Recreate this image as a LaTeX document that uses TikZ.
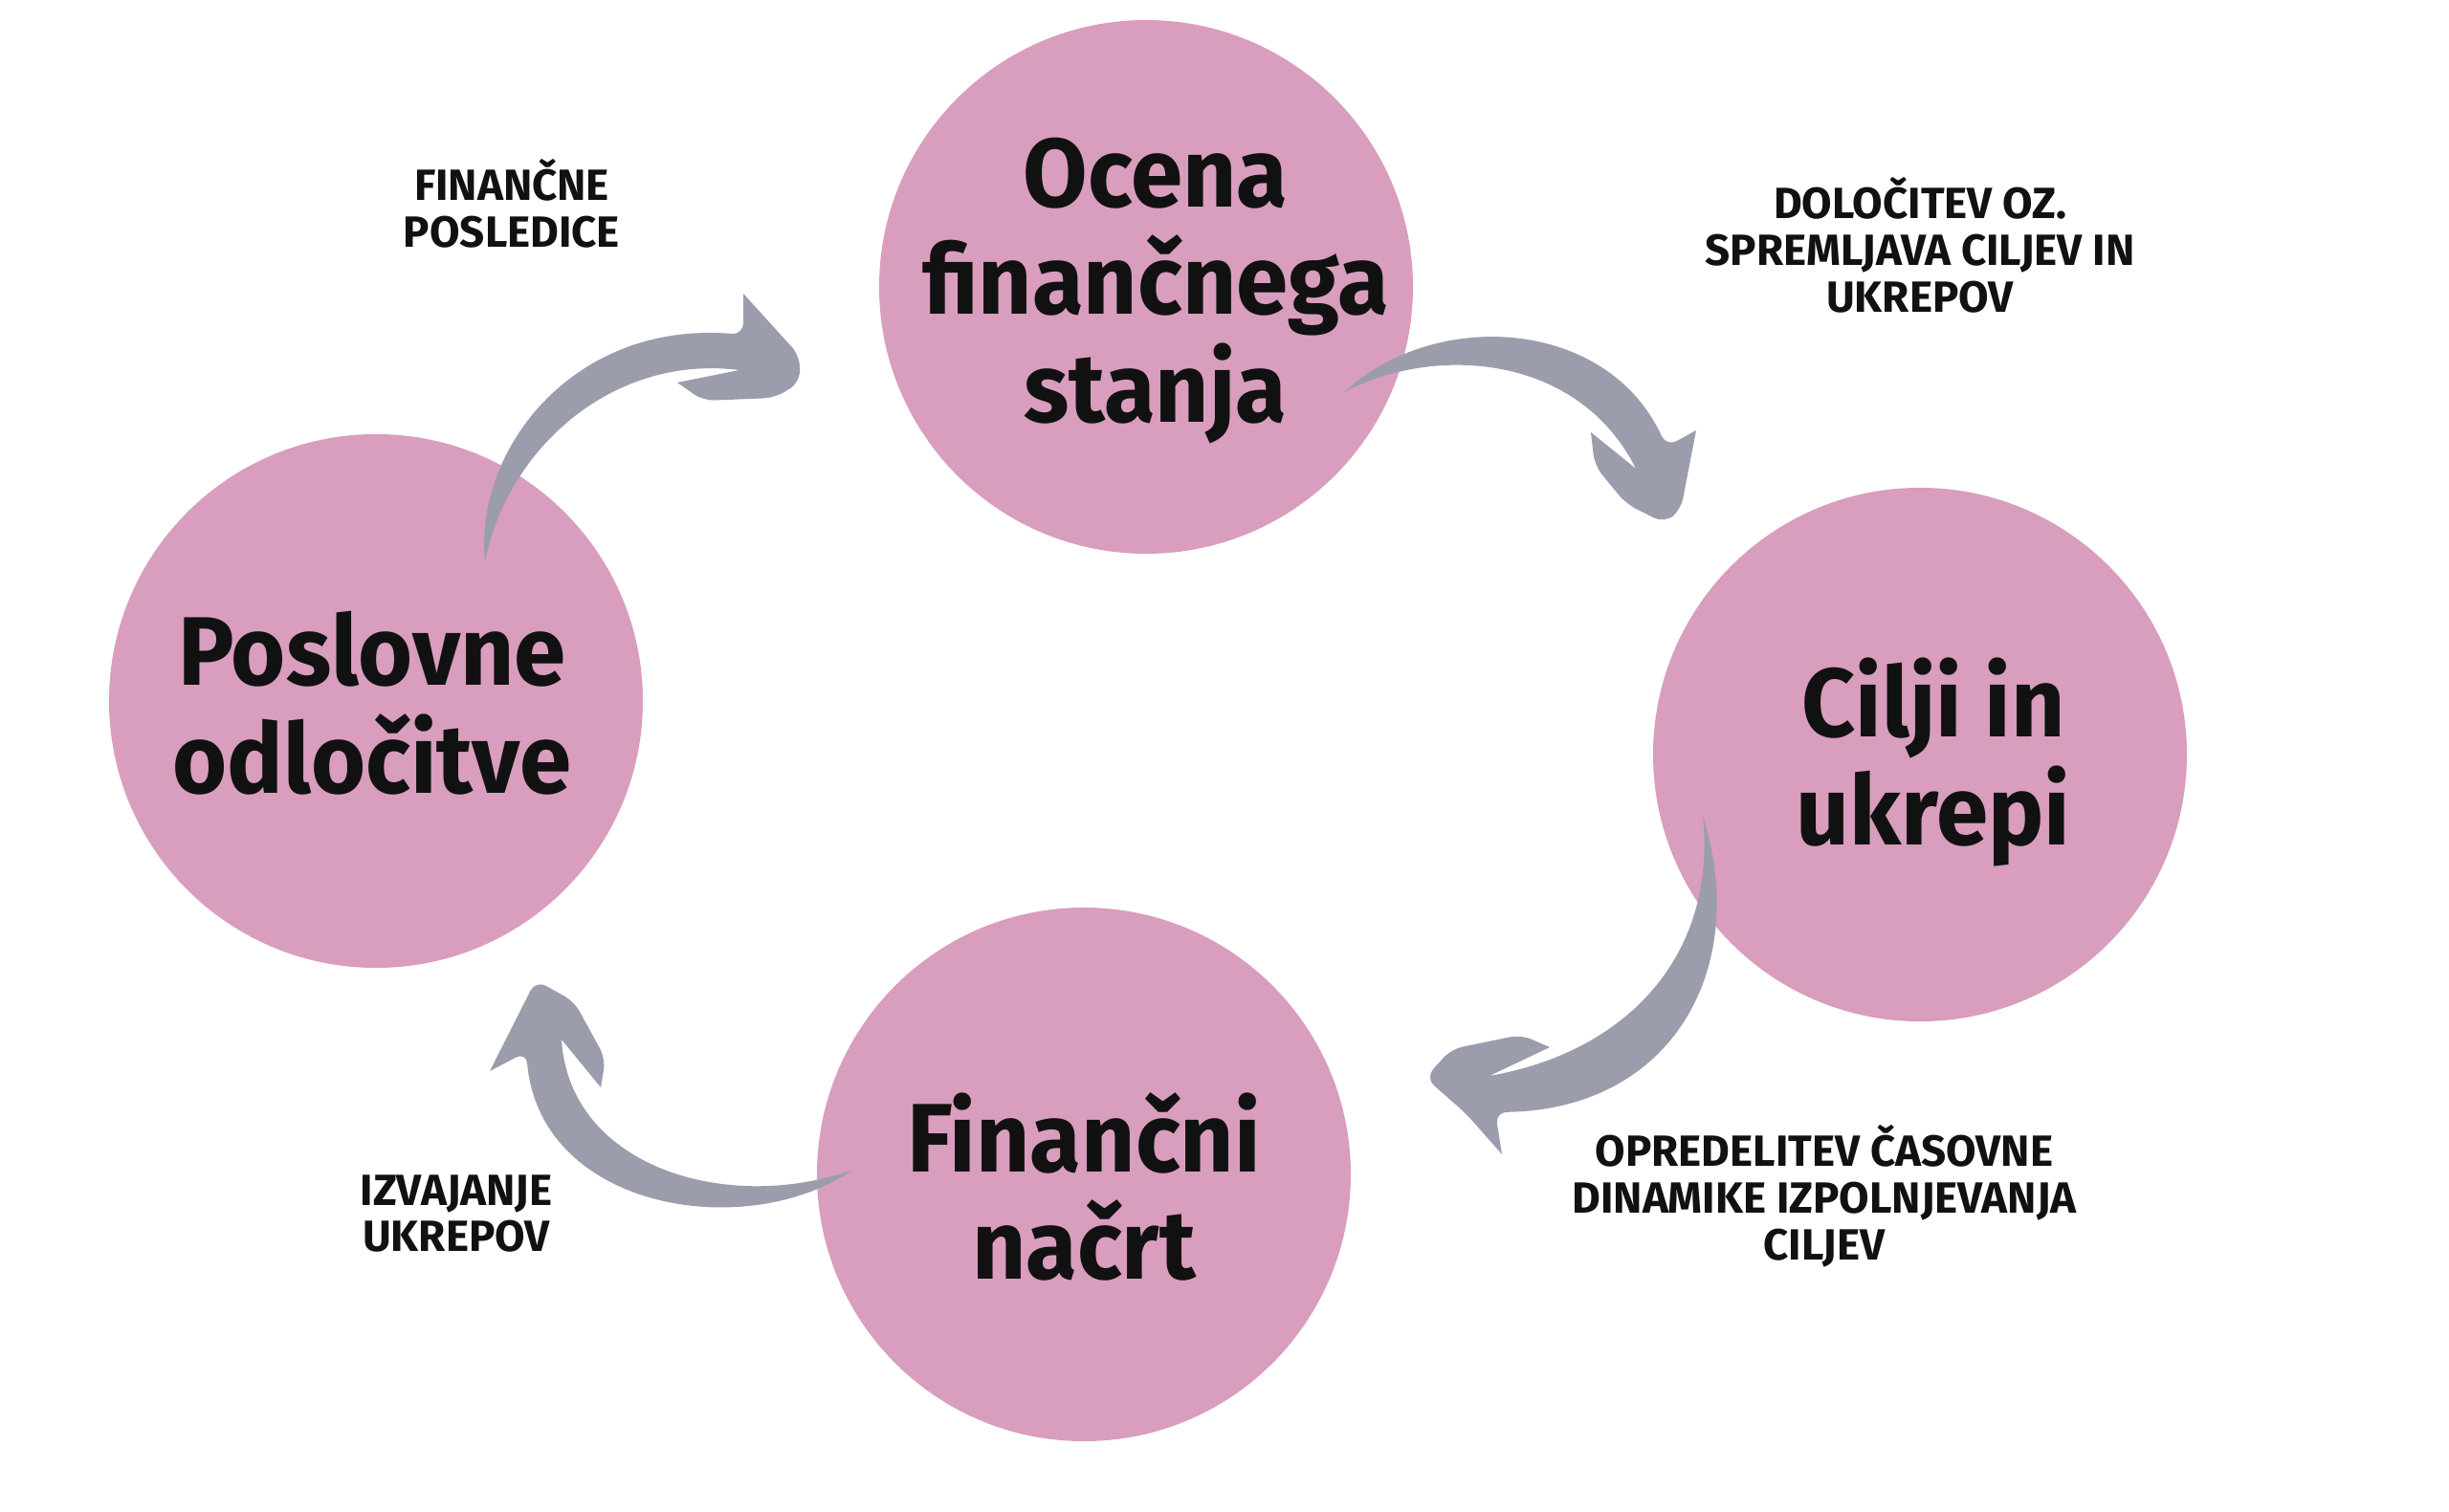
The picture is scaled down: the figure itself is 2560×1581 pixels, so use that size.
\documentclass[tikz,border=0pt]{standalone}
\usepackage{fontspec}
\setmainfont{Fira Sans}
\newfontfamily\bigfont[FakeStretch=0.96]{Fira Sans}
\definecolor{pinkc}{HTML}{D99DBE}
\definecolor{grayc}{HTML}{9B9DAD}
\definecolor{textc}{HTML}{111111}
\begin{document}
\begin{tikzpicture}[x=0.1mm,y=-0.1mm,
  stage/.style={circle, fill=pinkc, minimum size=55.8mm, inner sep=0pt},
  big/.style={font=\bigfont\fontsize{29}{32}\selectfont\bfseries, align=center, text=textc, inner sep=0pt},
  small/.style={font=\fontsize{13}{13.9}\selectfont\bfseries, align=center, text=textc, inner sep=0pt},
  brush/.style={fill=grayc, rounded corners=1.2mm}]
\useasboundingbox[fill=white] (0,0) rectangle (2560,1581);
% stages
\node[stage] (ocena) at (1198,300) {};
\node[stage] (cilji) at (2007,789) {};
\node[stage] (nacrt) at (1133,1228) {};
\node[stage] (odl) at (393,733) {};
% brush arrows (tail tip and head tip as named coordinates)
\coordinate (a1s) at (507,587); \coordinate (a1e) at (837,385);
\coordinate (a2s) at (1405,410); \coordinate (a2e) at (1748,542);
\coordinate (a3s) at (1780,853); \coordinate (a3e) at (1490,1127);
\coordinate (a4s) at (892,1223); \coordinate (a4e) at (560,1025);
\fill[brush] (a1s) .. controls (495,470) and (600,335) .. (777,350)
  [sharp corners] -- (777,307) [rounded corners=1.2mm] -- (836,372) -- (836,400) -- (810,416) -- (735,419) [sharp corners] -- (708,400) -- (773,387)
  .. controls (640,370) and (530,470) .. (a1s) -- cycle;
\fill[brush] (a2s) .. controls (1500,322) and (1680,332) .. (1742,467)
  [sharp corners] -- (1773,450) [rounded corners=1.2mm] -- (1757,533) -- (1740,547) -- (1700,527) -- (1667,487) [sharp corners] -- (1663,452) -- (1710,490)
  .. controls (1650,370) and (1500,360) .. (a2s) -- cycle;
\fill[brush] (a3s) .. controls (1830,1010) and (1750,1160) .. (1563,1163)
  [sharp corners] -- (1570,1207) [rounded corners=1.2mm] -- (1533,1165) -- (a3e) -- (1517,1097) -- (1590,1082) [sharp corners] -- (1620,1095) -- (1557,1125)
  .. controls (1700,1100) and (1795,1000) .. (a3s) -- cycle;
\fill[brush] (a4s) .. controls (780,1300) and (565,1265) .. (550,1100)
  [sharp corners] -- (512,1120) [rounded corners=1.2mm] -- (a4e) -- (600,1047) -- (633,1107) [sharp corners] -- (628,1137) -- (587,1087)
  .. controls (595,1220) and (760,1270) .. (a4s) -- cycle;
% stage texts
\node[big] (tocena) at (1208,304) {Ocena\\finančnega\\stanja};
\node[big] (tcilji) at (2021,797) {Cilji in\\ukrepi};
\node[big] (tnacrt) at (1133,1241) {Finančni\\načrt};
\node[big] (todl) at (389,735) {Poslovne\\odločitve};
% labels
\node[small] (l1) at (535,213) {FINANČNE\\POSLEDICE};
\node[small] (l2) at (2007,256) {DOLOČITEV OZ.\\SPREMLJAVA CILJEV IN\\UKREPOV};
\node[small] (l3) at (1907,1251) {OPREDELITEV ČASOVNE\\DINAMIKE IZPOLNJEVANJA\\CILJEV};
\node[small] (l4) at (477,1269) {IZVAJANJE\\UKREPOV};
\end{tikzpicture}
\end{document}
